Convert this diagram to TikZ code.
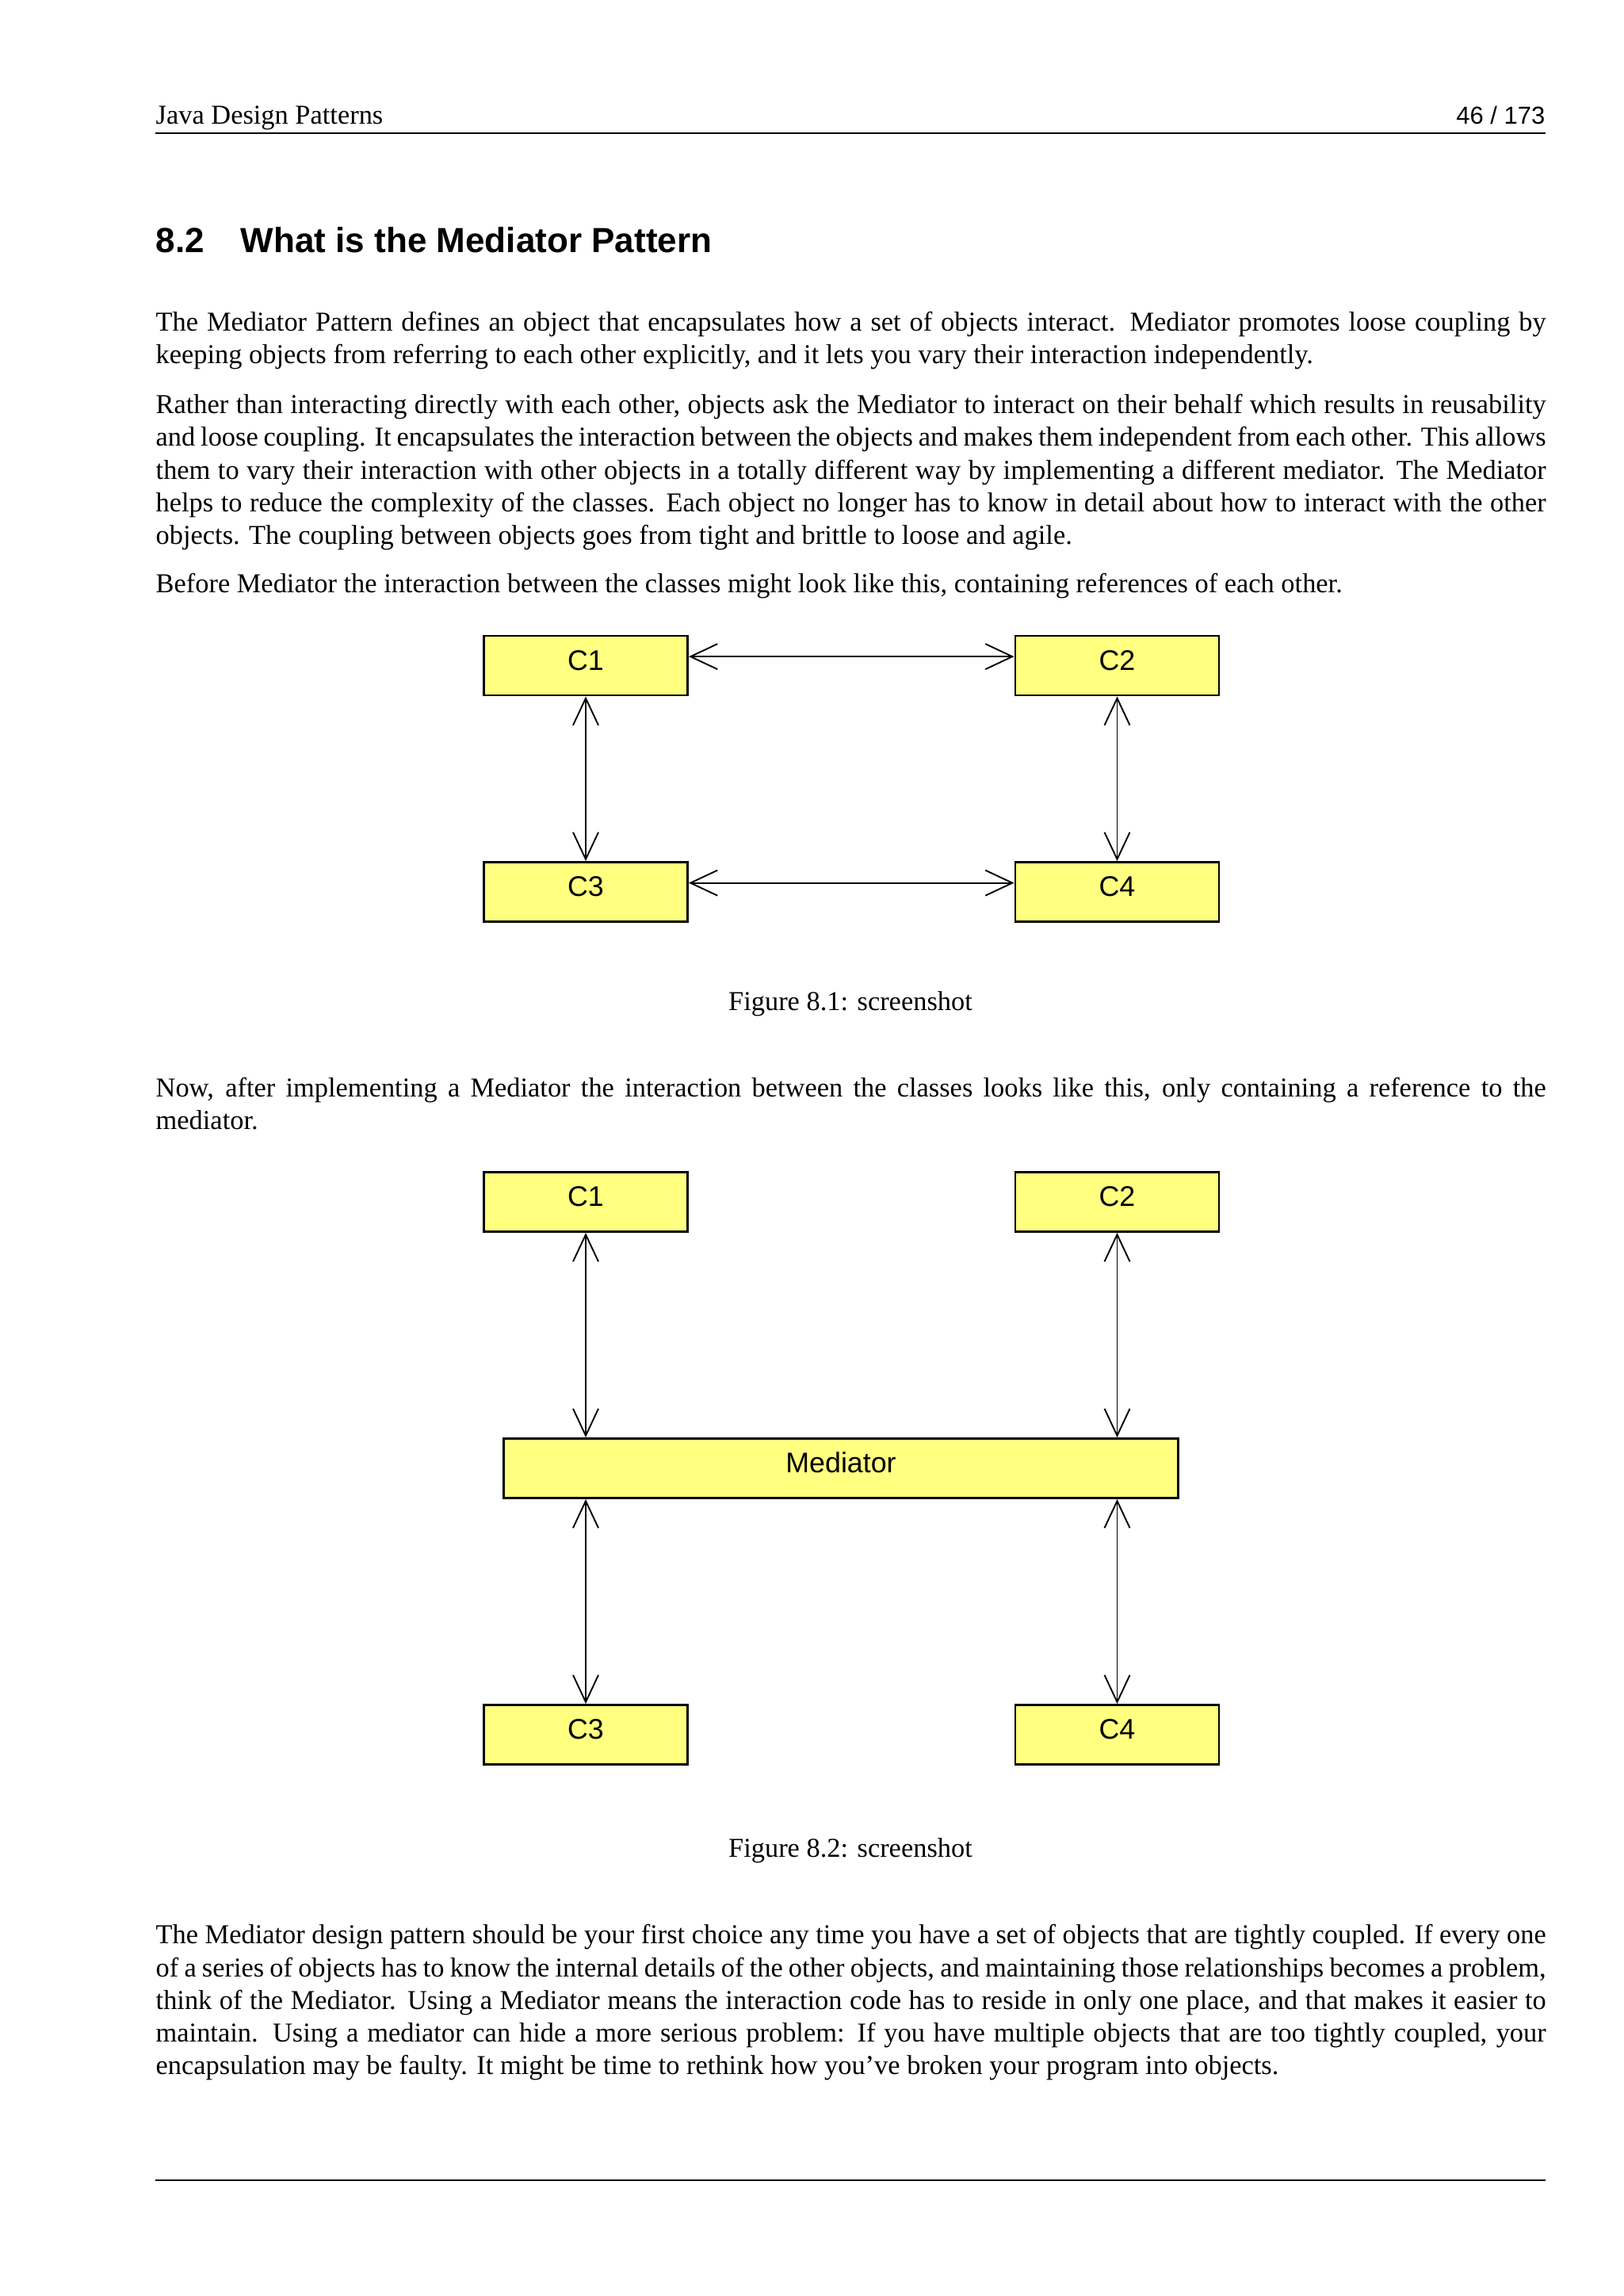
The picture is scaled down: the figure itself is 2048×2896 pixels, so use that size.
\documentclass[tikz,border=0pt]{standalone}
\usepackage{fontspec}
\setmainfont{Liberation Serif}
\setsansfont{Liberation Sans}
\usetikzlibrary{arrows.meta,positioning}
\definecolor{boxfill}{HTML}{FFFF80}
\newcommand{\bodyfont}{\fontsize{10}{12}\selectfont}
\newcommand{\boxfont}{\sffamily\fontsize{10.4}{12}\selectfont}
\tikzset{
  cls/.style={rectangle, draw=black, line width=0.85pt, fill=boxfill, inner sep=0pt,
    minimum width=74.7pt, minimum height=21.8pt, font=\boxfont, text height=7.4pt, text depth=4pt},
  med/.style={cls, minimum width=247.6pt},
  ref/.style={{Straight Barb[length=9.9pt,width=9.3pt]}-{Straight Barb[length=9.9pt,width=9.3pt]}, line width=0.55pt},
  para/.style={anchor=north west, yshift=8.4pt, inner sep=0pt, text width=509.8pt, align=justify, font=\bodyfont},
  capt/.style={anchor=base, inner sep=0pt, font=\bodyfont},
  hd/.style={anchor=base west, inner sep=0pt, font=\sffamily\bfseries\fontsize{12.8}{15}\selectfont},
  hrule/.style={line width=0.6pt},
}

\begin{document}
\begin{tikzpicture}[x=0.29066pt, y=-0.29066pt]
  \useasboundingbox (0,0) rectangle (2048,2896);
  % running head
  \node[anchor=base west, inner sep=0pt, font=\bodyfont] (head) at (196,156) {Java Design Patterns};
  \node[anchor=base east, inner sep=0pt, font=\sffamily\fontsize{9}{11}\selectfont] (pg) at (1950,156) {46 / 173};
  \draw[hrule] (196,168) -- (1950,168);
  \node[hd] (secno) at (196,318) {8.2};
  \node[hd] (sectitle) at (303,318) {What is the Mediator Pattern};

  \node[para] (p1) at (196,417) {\strut The Mediator Pattern defines an object that encapsulates how a set of objects interact.  Mediator promotes loose coupling by\linebreak
    keeping objects from referring to each other explicitly, and it lets you vary their interaction independently.};
  \node[para] (p2) at (196,521) {\strut Rather than interacting directly with each other, objects ask the Mediator to interact on their behalf which results in reusability\linebreak
    and loose coupling. It encapsulates the interaction between the objects and makes them independent from each other. This allows\linebreak
    them to vary their interaction with other objects in a totally different way by implementing a different mediator.  The Mediator\linebreak
    helps to reduce the complexity of the classes.  Each object no longer has to know in detail about how to interact with the other\linebreak
    objects. The coupling between objects goes from tight and brittle to loose and agile.};
  \node[para] (p3) at (196,747) {\strut Before Mediator the interaction between the classes might look like this, containing references of each other.};

  % before
  \node[cls] (c1) at (739,839.5) {C1};
  \node[cls] (c2) at (1409.5,839.5) {C2};
  \node[cls] (c3) at (739,1125) {C3};
  \node[cls] (c4) at (1409.5,1125) {C4};
  \draw[ref] ([yshift=3.3pt]c1.east) -- ([yshift=3.3pt]c2.west);
  \draw[ref] ([yshift=3.3pt]c3.east) -- ([yshift=3.3pt]c4.west);
  \draw[ref] (c1.south) -- (c3.north);
  \draw[ref] (c2.south) -- (c4.north);
  \node[capt] (cap1) at (1073,1274) {Figure 8.1: screenshot};

  \node[para] (p4) at (196,1383) {\strut Now, after implementing a Mediator the interaction between the classes looks like this, only containing a reference to the\linebreak
    mediator.};

  % after
  \node[cls] (d1) at (739,1516) {C1};
  \node[cls] (d2) at (1409.5,1516) {C2};
  \node[med] (mdt) at (1061,1852) {Mediator};
  \node[cls] (d3) at (739,2188) {C3};
  \node[cls] (d4) at (1409.5,2188) {C4};
  \draw[ref] (d1.south) -- (d1.south |- mdt.north);
  \draw[ref] (d2.south) -- (d2.south |- mdt.north);
  \draw[ref] (d3.north |- mdt.south) -- (d3.north);
  \draw[ref] (d4.north |- mdt.south) -- (d4.north);
  \node[capt] (cap2) at (1073,2342) {Figure 8.2: screenshot};

  \node[para] (p5) at (196,2451) {\strut The Mediator design pattern should be your first choice any time you have a set of objects that are tightly coupled. If every one\linebreak
    of a series of objects has to know the internal details of the other objects, and maintaining those relationships becomes a problem,\linebreak
    think of the Mediator.  Using a Mediator means the interaction code has to reside in only one place, and that makes it easier to\linebreak
    maintain.  Using a mediator can hide a more serious problem:  If you have multiple objects that are too tightly coupled, your\linebreak
    encapsulation may be faulty. It might be time to rethink how you've broken your program into objects.};
  \draw[hrule] (196,2750) -- (1950,2750);
\end{tikzpicture}
\end{document}
